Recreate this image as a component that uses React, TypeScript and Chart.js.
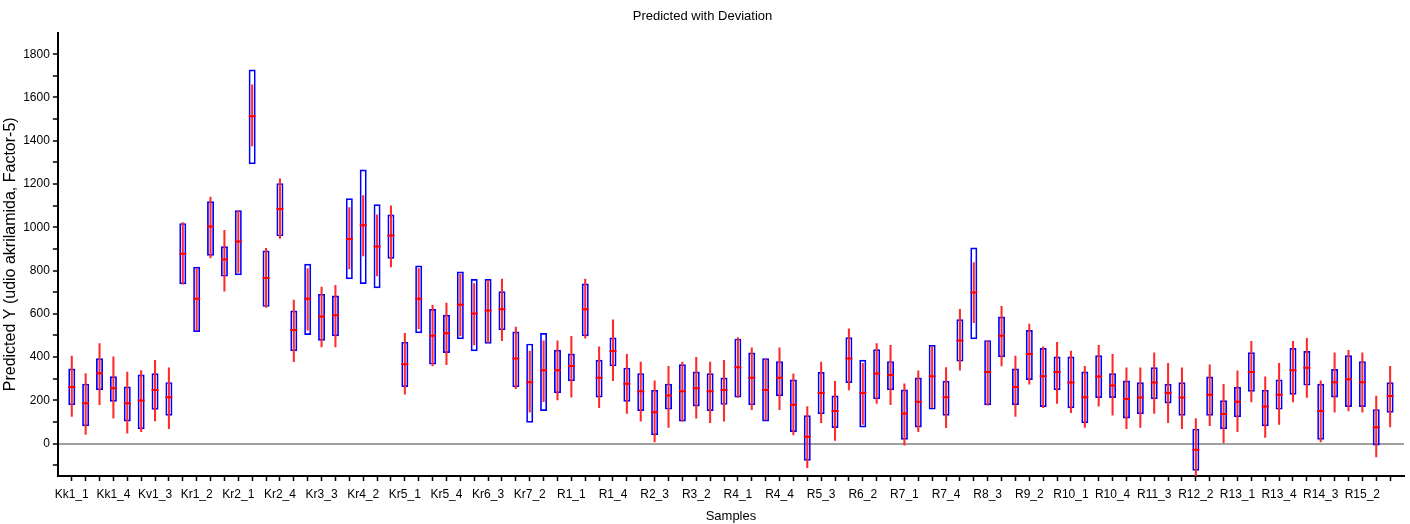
import React, { useEffect, useRef } from 'react';
import { Chart, registerables } from 'chart.js';

Chart.register(...registerables);
Chart.defaults.font.family = "'Liberation Sans', Arial, sans-serif";
Chart.defaults.color = '#000';

const samples = [
  'Kk1_1', 'Kk1_2', 'Kk1_3', 'Kk1_4', 'Kv1_1', 'Kv1_2', 'Kv1_3', 'Kv1_4',
  'Kr1_1', 'Kr1_2', 'Kr1_3', 'Kr1_4', 'Kr2_1', 'Kr2_2', 'Kr2_3', 'Kr2_4',
  'Kr3_1', 'Kr3_2', 'Kr3_3', 'Kr3_4', 'Kr4_1', 'Kr4_2', 'Kr4_3', 'Kr4_4',
  'Kr5_1', 'Kr5_2', 'Kr5_3', 'Kr5_4', 'Kr6_1', 'Kr6_2', 'Kr6_3', 'Kr6_4',
  'Kr7_1', 'Kr7_2', 'Kr7_3', 'Kr7_4', 'R1_1', 'R1_2', 'R1_3', 'R1_4',
  'R2_1', 'R2_2', 'R2_3', 'R2_4', 'R3_1', 'R3_2', 'R3_3', 'R3_4',
  'R4_1', 'R4_2', 'R4_3', 'R4_4', 'R5_1', 'R5_2', 'R5_3', 'R5_4',
  'R6_1', 'R6_2', 'R6_3', 'R6_4', 'R7_1', 'R7_2', 'R7_3', 'R7_4',
  'R8_1', 'R8_2', 'R8_3', 'R8_4', 'R9_1', 'R9_2', 'R9_3', 'R9_4',
  'R10_1', 'R10_2', 'R10_3', 'R10_4', 'R11_1', 'R11_2', 'R11_3', 'R11_4',
  'R12_1', 'R12_2', 'R12_3', 'R12_4', 'R13_1', 'R13_2', 'R13_3', 'R13_4',
  'R14_1', 'R14_2', 'R14_3', 'R14_4', 'R15_1', 'R15_2', 'R15_3', 'R15_4',
];

const boxHigh = [
  347, 277, 394, 311, 264, 319, 325, 284,
  1019, 817, 1120, 912, 1079, 1729, 892, 1204,
  615, 831, 692, 684, 1134, 1267, 1106, 1059,
  470, 823, 622, 595, 795, 761, 761, 704,
  518, 462, 511, 434, 416, 740, 387, 490,
  351, 325, 248, 277, 367, 333, 325, 305,
  485, 421, 394, 381, 296, 131, 331, 222,
  491, 387, 436, 381, 250, 305, 456, 290,
  575, 906, 478, 587, 347, 525, 442, 402,
  402, 333, 408, 325, 291, 283, 353, 276,
  283, 69, 310, 200, 262, 422, 248, 296,
  442, 428, 276, 345, 408, 381, 159, 283,
];

const boxLow = [
  177, 80, 247, 193, 102, 66, 156, 129,
  737, 516, 868, 772, 778, 1291, 632, 958,
  427, 502, 475, 496, 760, 738, 718, 855,
  262, 510, 365, 419, 482, 427, 462, 524,
  260, 96, 151, 233, 288, 496, 213, 357,
  193, 151, 39, 157, 102, 171, 151, 179,
  213, 177, 102, 219, 54, -79, 136, 72,
  280, 74, 205, 247, 18, 74, 157, 129,
  379, 482, 177, 399, 177, 294, 169, 247,
  163, 94, 211, 211, 116, 136, 205, 185,
  129, -126, 129, 66, 122, 240, 80, 157,
  226, 268, 18, 213, 169, 169, -9, 143,
];

const predicted = [
  262, 186, 325, 256, 186, 199, 248, 214,
  878, 670, 1003, 851, 934, 1513, 766, 1085,
  525, 670, 587, 593, 946, 1009, 911, 962,
  367, 670, 498, 510, 642, 601, 615, 621,
  393, 283, 339, 339, 359, 621, 304, 428,
  277, 242, 145, 222, 242, 256, 242, 248,
  353, 304, 248, 304, 179, 32, 234, 151,
  393, 234, 324, 317, 139, 193, 311, 214,
  476, 698, 331, 498, 262, 414, 311, 331,
  282, 214, 310, 268, 206, 213, 282, 234,
  213, -29, 226, 137, 193, 331, 171, 226,
  339, 351, 151, 283, 297, 283, 75, 220,
];

const errHigh = [
  405, 324, 462, 401, 331, 337, 385, 350,
  1022, 809, 1140, 986, 1076, 1658, 903, 1224,
  663, 809, 724, 732, 1091, 1146, 1057, 1099,
  510, 809, 639, 649, 783, 740, 755, 760,
  538, 428, 475, 475, 496, 760, 447, 572,
  413, 377, 290, 357, 377, 399, 377, 385,
  490, 442, 390, 442, 322, 171, 377, 288,
  530, 371, 462, 454, 276, 336, 450, 351,
  621, 837, 475, 635, 405, 552, 447, 468,
  427, 357, 454, 413, 350, 350, 419, 371,
  350, 116, 364, 274, 336, 473, 308, 371,
  473, 487, 290, 419, 431, 419, 219, 357,
];

const errLow = [
  125, 42, 180, 117, 48, 55, 105, 69,
  737, 524, 858, 704, 791, 1376, 629, 948,
  379, 524, 447, 447, 807, 868, 775, 817,
  228, 530, 359, 365, 498, 456, 467, 476,
  254, 145, 194, 202, 214, 487, 166, 291,
  139, 103, 8, 75, 102, 117, 97, 103,
  213, 157, 109, 157, 40, -111, 97, 14,
  248, 88, 186, 180, -8, 55, 166, 74,
  339, 559, 177, 359, 125, 274, 166, 186,
  143, 75, 173, 131, 69, 75, 139, 97,
  69, -157, 83, 0, 55, 193, 28, 89,
  193, 213, 8, 145, 151, 145, -62, 77,
];

const yTickValues = [-100, 0, 100, 200, 300, 400, 500, 600, 700, 800, 900, 1000, 1100, 1200, 1300, 1400, 1500, 1600, 1700, 1800];
const yMin = -150;
const yMax = 1900;

export default function App() {
  const ref = useRef<HTMLCanvasElement>(null);

  useEffect(() => {
    if (!ref.current) return;
    const labels = ['', ...samples, ''];
    const pad = (arr: any[]) => [null, ...arr, null];
    const boxes = pad(samples.map((_, i) => [boxLow[i], boxHigh[i]]));
    const errs = pad(samples.map((_, i) => [errLow[i], errHigh[i]]));
    const last = labels.length - 1;

    const chart = new Chart(ref.current, {
      type: 'bar',
      data: {
        labels,
        datasets: [
          {
            type: 'line',
            data: pad(predicted),
            showLine: false,
            pointStyle: 'line',
            pointRadius: 3.5,
            pointHoverRadius: 3.5,
            borderColor: '#ff0000',
            pointBorderColor: '#ff0000',
            backgroundColor: '#ff0000',
            pointBorderWidth: 2,
            pointHoverBorderWidth: 2,
          } as any,
          {
            type: 'bar',
            data: errs,
            backgroundColor: '#ff2a2a',
            borderWidth: 0,
            barThickness: 1.4,
            grouped: false,
          } as any,
          {
            type: 'bar',
            data: boxes,
            backgroundColor: 'rgba(0,0,0,0)',
            borderColor: '#0000ff',
            borderWidth: 1.7,
            borderSkipped: false,
            barThickness: 7,
            grouped: false,
            inflateAmount: 0,
          } as any,
        ],
      },
      options: {
        animation: false,
        responsive: true,
        maintainAspectRatio: false,
        layout: { padding: { left: 0, right: 5, top: 0, bottom: 0 } },
        plugins: {
          legend: { display: false },
          tooltip: { enabled: false },
          title: {
            display: true,
            text: 'Predicted with Deviation',
            color: '#000',
            font: { size: 13, weight: 'normal' },
            padding: { top: 9, bottom: 8 },
          },
        },
        scales: {
          x: {
            type: 'category',
            offset: false,
            grid: {
              offset: false,
              drawOnChartArea: false,
              drawTicks: true,
              tickLength: 5,
              tickWidth: 1.5,
              tickColor: (ctx: any) => (ctx.index === 0 || ctx.index === last ? 'rgba(0,0,0,0)' : '#000'),
            },
            border: { display: true, color: '#000', width: 2 },
            ticks: {
              autoSkip: false,
              maxRotation: 0,
              minRotation: 0,
              padding: 6,
              color: '#000',
              font: { size: 12 },
              callback: (_v: any, i: number) => (i >= 1 && i <= samples.length && (i - 1) % 3 === 0 ? labels[i] : ''),
            },
            title: {
              display: true,
              text: 'Samples',
              color: '#000',
              font: { size: 13 },
              padding: { top: 1, bottom: 0 },
            },
          },
          y: {
            type: 'linear',
            min: yMin,
            max: yMax,
            afterBuildTicks: (s: any) => {
              s.ticks = yTickValues.map((v) => ({ value: v }));
            },
            grid: {
              drawOnChartArea: true,
              color: (ctx: any) => (ctx.tick && ctx.tick.value === 0 ? '#a0a0a0' : 'rgba(0,0,0,0)'),
              lineWidth: 2,
              drawTicks: true,
              tickLength: 5,
              tickColor: '#000',
              tickWidth: 1.5,
            },
            border: { display: true, color: '#000', width: 2 },
            ticks: {
              autoSkip: false,
              padding: 3,
              color: '#000',
              font: { size: 12 },
              callback: (v: any) => (Number(v) % 200 === 0 ? String(v) : ''),
            },
            title: {
              display: true,
              text: 'Predicted Y (udio akrilamida, Factor-5)',
              color: '#000',
              font: { size: 16 },
              padding: { top: 1, bottom: 0 },
            },
          },
        },
      } as any,
    });

    return () => chart.destroy();
  }, []);

  return (
    <div style={{ position: 'fixed', left: 0, top: 0, width: 1410, height: 524, background: '#fff' }}>
      <canvas ref={ref} />
    </div>
  );
}
